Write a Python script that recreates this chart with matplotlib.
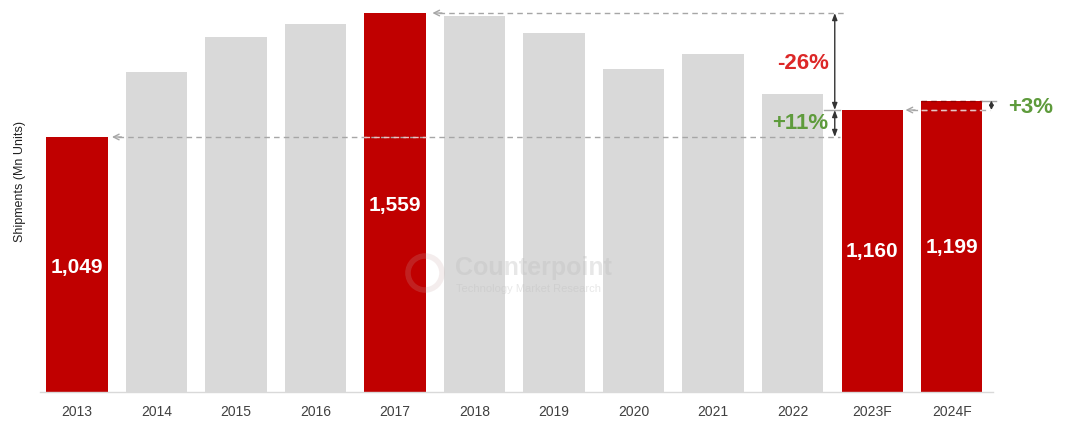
import matplotlib
matplotlib.use("Agg")
import matplotlib.pyplot as plt
from matplotlib.patches import Circle

plt.rcParams['font.family'] = ['Liberation Sans', 'DejaVu Sans']

years = ['2013', '2014', '2015', '2016', '2017', '2018', '2019', '2020',
         '2021', '2022', '2023F', '2024F']
shipments = [1049, 1317, 1461, 1514, 1559, 1547, 1477, 1329, 1391, 1227, 1160, 1199]
highlight = ['2013', '2017', '2023F', '2024F']
labels = {'2013': '1,049', '2017': '1,559', '2023F': '1,160', '2024F': '1,199'}
label_y = {'2013': 514, '2017': 769, '2023F': 576, '2024F': 596}
changes = ['-26%', '+11%', '+3%']

RED = '#C00000'
GREY = '#D9D9D9'
GREEN = '#5E9B3C'
PCT_RED = '#DC2828'
DASH = '#A6A6A6'
DASH_ON_RED = '#EBC4C4'
BAR_W = 0.77

W, H = 1065, 421
fig = plt.figure(figsize=(W / 100, H / 100), dpi=100)
ax = fig.add_axes([40 / W, 29 / H, 953 / W, 387 / H])

x = list(range(len(years)))
colors = [RED if y in highlight else GREY for y in years]
ax.bar(x, shipments, width=BAR_W, color=colors, zorder=2)

ax.set_xlim(-0.465, 11.52)
ax.set_ylim(0, 1592)
ax.set_xticks(x)
ax.set_xticklabels(years, fontsize=10, color='#404040')
ax.tick_params(axis='x', length=0, pad=9)
ax.set_yticks([])
for s in ['top', 'right', 'left']:
    ax.spines[s].set_visible(False)
ax.spines['bottom'].set_color('#D9D9D9')
ax.spines['bottom'].set_linewidth(1)

# value labels inside highlighted bars
for i, y in enumerate(years):
    if y in labels:
        ax.text(i, label_y[y], labels[y], ha='center', va='center',
                color='white', fontsize=15, fontweight='bold', zorder=5)

idx = {y: i for i, y in enumerate(years)}
v13, v17, v23, v24 = (shipments[idx[k]] for k in ['2013', '2017', '2023F', '2024F'])
DASHES = (0, (4, 3))

def ref_line(y, x_start, x_end):
    # dashed reference line ending in an open arrowhead on the left
    ax.plot([x_start + 0.08, x_end], [y, y], ls=DASHES, color=DASH,
            lw=1, zorder=4, clip_on=False)
    # lighter dashes where the line runs across a red bar
    for i, yr in enumerate(years):
        if yr in highlight and shipments[i] > y:
            a, b = max(i - BAR_W / 2, x_start + 0.08), min(i + BAR_W / 2, x_end)
            if b > a:
                ax.plot([a, b], [y, y], ls=DASHES, color=DASH_ON_RED,
                        lw=1, zorder=4.5)
    ax.annotate('', xy=(x_start, y), xytext=(x_start + 0.12, y),
                arrowprops=dict(arrowstyle='->', color=DASH, lw=1,
                                shrinkA=0, shrinkB=0), zorder=4,
                annotation_clip=False)

ref_line(v17, idx['2017'] + 0.47, 9.66)
ref_line(v13, idx['2013'] + 0.44, 9.6)
ref_line(v23, idx['2023F'] + 0.42, 11.48)

# dashed edge along the top of the 2024F bar, continuing to the +3% arrow
i24 = idx['2024F']
ax.plot([i24 - BAR_W / 2, i24 + BAR_W / 2], [v24, v24], ls=DASHES,
        color='#8E0000', lw=1, zorder=4)
ax.plot([i24 + BAR_W / 2, 11.56], [v24, v24], color=DASH, lw=1,
        zorder=4, clip_on=False)
ax.plot([9.4, 9.6], [v23, v23], color=DASH, lw=1, zorder=4)

def span_arrow(xp, y0, y1, hl=0.4, hw=0.15):
    ax.annotate('', xy=(xp, y0), xytext=(xp, y1),
                arrowprops=dict(arrowstyle=f'<|-|>,head_length={hl},head_width={hw}',
                                color='#333333', lw=1, shrinkA=0, shrinkB=0),
                zorder=5, annotation_clip=False)

span_arrow(9.53, v17, v23)
span_arrow(9.53, v23, v13)
span_arrow(11.5, v23, v24, hl=0.25, hw=0.12)

ax.text(9.13, 1353, changes[0], ha='center', va='center', color=PCT_RED,
        fontsize=16, fontweight='bold', zorder=6)
ax.text(9.09, 1106, changes[1], ha='center', va='center', color=GREEN,
        fontsize=16, fontweight='bold', zorder=6)
ax.text(11.99, 1172, changes[2], ha='center', va='center', color=GREEN,
        fontsize=16, fontweight='bold', zorder=6, clip_on=False)

# faint watermark
fig.text(455 / W, 1 - 268 / H, 'Counterpoint', ha='left', va='center',
         fontsize=18, fontweight='bold', color='#BDBDBD', alpha=0.35, zorder=10)
fig.text(456 / W, 1 - 289 / H, 'Technology Market Research', ha='left',
         va='center', fontsize=8, color='#BDBDBD', alpha=0.35, zorder=10)
logo = Circle((425, H - 273), 17, transform=None, fill=False,
              ec='#C9A9A9', lw=4, alpha=0.2, zorder=10)
fig.patches.append(logo)

fig.text(20 / W, 1 - 181 / H, 'Shipments (Mn Units)', rotation=90,
         ha='center', va='center', fontsize=9, color='#222222')

fig.savefig('out.png', dpi=100)
